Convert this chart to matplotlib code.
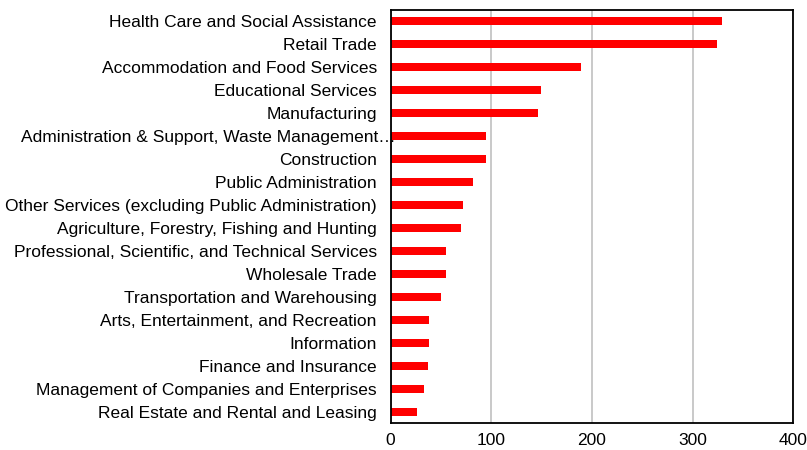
import matplotlib
matplotlib.use("Agg")
import matplotlib.pyplot as plt

plt.rcParams['font.family'] = ['Liberation Sans', 'DejaVu Sans']

# Industries, top to bottom as shown
industries = [
    "Health Care and Social Assistance",
    "Retail Trade",
    "Accommodation and Food Services",
    "Educational Services",
    "Manufacturing",
    "Administration & Support, Waste Management\u2026",
    "Construction",
    "Public Administration",
    "Other Services (excluding Public Administration)",
    "Agriculture, Forestry, Fishing and Hunting",
    "Professional, Scientific, and Technical Services",
    "Wholesale Trade",
    "Transportation and Warehousing",
    "Arts, Entertainment, and Recreation",
    "Information",
    "Finance and Insurance",
    "Management of Companies and Enterprises",
    "Real Estate and Rental and Leasing",
]
values = [329, 324, 189, 149, 146, 95, 95, 82, 72, 70, 55, 55, 50, 38, 38, 37, 33, 26]
xticks = [0, 100, 200, 300, 400]

fig = plt.figure(figsize=(8.07, 4.5), dpi=100)
ax = fig.add_axes([0.4841, 0.0593, 0.4989, 0.9185])

ypos = list(range(len(industries)))
ax.barh(ypos, values, height=0.35, color='#ff0000', zorder=3)
ax.set_ylim(len(industries) - 0.5, -0.5)
ax.set_xlim(0, 400)
ax.set_xticks(xticks)
ax.set_yticks(ypos)
ax.set_yticklabels(industries)

ax.grid(axis='x', color='#c0c0c0', linewidth=1.2, zorder=0)
ax.tick_params(length=0, labelsize=12.5, colors='black')
ax.tick_params(axis='y', pad=10)
ax.tick_params(axis='x', pad=7)
for s in ax.spines.values():
    s.set_color('black')
    s.set_linewidth(1.3)
    s.set_zorder(4)

# truncated label runs up to (and under) the axis edge
ax.get_yticklabels()[5].set_x(0.046)

fig.savefig('out.png', dpi=100)
